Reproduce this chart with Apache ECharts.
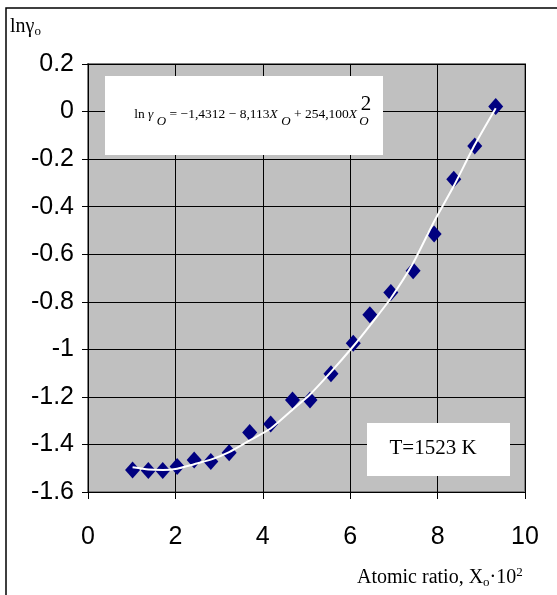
<!DOCTYPE html>
<html>
<head>
<meta charset="utf-8">
<script src="https://cdn.jsdelivr.net/npm/echarts@6/dist/echarts.min.js"></script>
<style>
html,body{margin:0;padding:0;background:#fff;}
#chart{width:557px;height:595px;}
</style>
</head>
<body>
<div id="chart"></div>
<script>
// Measured points: atomic ratio X_O·10^2 and ln gamma_O
const xData = [1.02, 1.38, 1.71, 2.04, 2.43, 2.81, 3.23, 3.70, 4.18, 4.68, 5.08, 5.56, 6.07, 6.45, 6.93, 7.44, 7.92, 8.37, 8.85, 9.33];
const yData = [-1.507, -1.510, -1.510, -1.493, -1.465, -1.472, -1.435, -1.350, -1.314, -1.213, -1.213, -1.103, -0.974, -0.855, -0.761, -0.669, -0.515, -0.285, -0.145, 0.021];
// Trend line values at the same X positions
const fitY = [-1.496, -1.505, -1.507, -1.502, -1.483, -1.464, -1.432, -1.383, -1.333, -1.254, -1.190, -1.095, -0.987, -0.900, -0.785, -0.637, -0.462, -0.313, -0.140, 0.014];
const xTicks = [0, 2, 4, 6, 8, 10];
const yTicks = [0.2, 0, -0.2, -0.4, -0.6, -0.8, -1, -1.2, -1.4, -1.6];

const points = xData.map((x, i) => [x, yData[i]]);
const fitLine = xData.map((x, i) => [x, fitY[i]]);

const chart = echarts.init(document.getElementById('chart'), null, {renderer: 'canvas'});
const serif = '"Liberation Serif", "Times New Roman", serif';
const sans = '"Liberation Sans", Arial, sans-serif';

chart.setOption({
  backgroundColor: '#ffffff',
  animation: false,
  grid: {
    left: 88, right: 32, top: 64, bottom: 103,
    show: true,
    backgroundColor: '#C0C0C0',
    borderColor: '#808080',
    borderWidth: 2
  },
  xAxis: {
    type: 'value',
    min: xTicks[0], max: xTicks[xTicks.length - 1], interval: 2,
    axisLine: {show: true, onZero: false, lineStyle: {color: '#000', width: 1}},
    axisTick: {show: true, inside: false, length: 7, lineStyle: {color: '#000'}},
    axisLabel: {color: '#000', fontSize: 25, fontFamily: sans, margin: 33},
    splitLine: {show: true, lineStyle: {color: '#000', width: 1}}
  },
  yAxis: {
    type: 'value',
    min: yTicks[yTicks.length - 1], max: yTicks[0], interval: 0.2,
    axisLine: {show: true, onZero: false, lineStyle: {color: '#000', width: 1}},
    axisTick: {show: true, inside: false, length: 6, lineStyle: {color: '#000'}},
    axisLabel: {color: '#000', fontSize: 25, fontFamily: sans, margin: 14,
      formatter: v => String(Math.round(v * 10) / 10)},
    splitLine: {show: true, lineStyle: {color: '#000', width: 1}}
  },
  series: [
    {
      type: 'scatter',
      data: points,
      symbol: 'diamond',
      symbolSize: [15, 17],
      itemStyle: {color: '#000080', opacity: 1},
      z: 2
    },
    {
      type: 'line',
      data: fitLine,
      showSymbol: false,
      smooth: 0.2,
      lineStyle: {color: '#ffffff', width: 2},
      z: 3
    }
  ],
  graphic: [
    {type: 'rect', shape: {x: 6, y: 8, width: 700, height: 700},
     style: {fill: 'none', stroke: '#000', lineWidth: 1.5}, z: 100},
    // y axis title
    {type: 'text', x: 10, y: 16,
     style: {text: '{a|lnγ}{s|o}', fill: '#000',
       rich: {a: {fontFamily: serif, fontSize: 20, fill: '#000'},
              s: {fontFamily: serif, fontSize: 13, fill: '#000', padding: [9, 0, 0, 0]}}}},
    // equation box
    {type: 'rect', shape: {x: 105, y: 76, width: 278, height: 79},
     style: {fill: '#fff', stroke: 'none'}, z: 50},
    {type: 'text', x: 357, y: 114, z: 51,
     style: {
       text: '{a|ln }{i|γ }{s|O}{a| = −1,4312 − 8,113}{i|X }{s|O}{a| + 254,100}{i|X}',
       align: 'right', verticalAlign: 'middle', fill: '#000',
       rich: {
         a: {fontFamily: serif, fontSize: 13.5, fill: '#000'},
         i: {fontFamily: serif, fontSize: 13.5, fontStyle: 'italic', fill: '#000'},
         s: {fontFamily: serif, fontSize: 13, fontStyle: 'italic', fill: '#000', padding: [16, 0, 0, 0]}
       }
     }},
    {type: 'text', x: 366, y: 104, z: 51,
     style: {text: '2', align: 'center', verticalAlign: 'middle', fontFamily: serif, fontSize: 21, fill: '#000'}},
    {type: 'text', x: 364, y: 122, z: 51,
     style: {text: 'O', align: 'center', verticalAlign: 'middle', fontFamily: serif, fontSize: 13, fontStyle: 'italic', fill: '#000'}},
    // temperature box
    {type: 'rect', shape: {x: 367, y: 423, width: 143, height: 53},
     style: {fill: '#fff', stroke: 'none'}, z: 50},
    {type: 'text', x: 433, y: 448, z: 51,
     style: {text: 'T=1523 K', align: 'center', verticalAlign: 'middle', fontFamily: serif, fontSize: 21, fill: '#000'}},
    // x axis title
    {type: 'text', x: 357, y: 578,
     style: {text: '{a|Atomic ratio, X}{s|o}{a|·10}{p|2}', verticalAlign: 'middle', fill: '#000',
       rich: {a: {fontFamily: serif, fontSize: 20, fill: '#000'},
              s: {fontFamily: serif, fontSize: 13, fill: '#000', padding: [10, 0, 0, 0]},
              p: {fontFamily: serif, fontSize: 13, fill: '#000', padding: [0, 0, 10, 0]}}}}
  ]
});
</script>
</body>
</html>
